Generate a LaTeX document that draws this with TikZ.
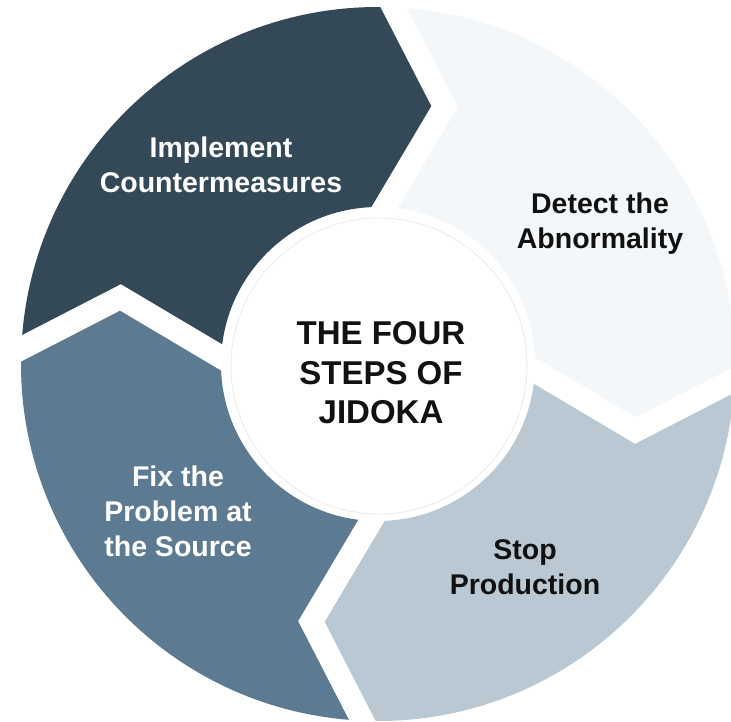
\documentclass[tikz,border=0pt]{standalone}
\usepackage{fontspec}
\setmainfont{Liberation Sans}
\usetikzlibrary{calc}
\definecolor{segdark}{HTML}{344958}
\definecolor{segblue}{HTML}{5C7A92}
\definecolor{seglight}{HTML}{B9C8D2}
\definecolor{segpale}{HTML}{F4F7F9}
\definecolor{inktext}{HTML}{111111}
\tikzset{
  seglabel/.style={align=center, font=\bfseries\fontsize{28.5}{35}\selectfont, inner sep=0pt},
  gapline/.style={draw=white, line width=23pt, miter limit=20, line join=miter},
  hubcircle/.style={circle, fill=white, draw=black!8, line width=0.8pt, minimum size=296pt, inner sep=0pt},
  titletext/.style={align=center, font=\bfseries\fontsize{33}{39.6}\selectfont, text=inktext, inner sep=0pt}
}
\begin{document}
\begin{tikzpicture}
\useasboundingbox (-378pt,-357pt) rectangle (353pt,364pt);
\fill[white] (-378pt,-357pt) rectangle (353pt,364pt);
% Implement Countermeasures
\fill[segdark] (177.5:357pt) arc[start angle=177.5, end angle=87.5, radius=357pt] -- (75.5:266pt) -- (87.5:157pt) arc[start angle=87.5, end angle=177.5, radius=157pt] -- (165.5:266pt) -- cycle;
% Detect the Abnormality
\fill[segpale] (87.5:357pt) arc[start angle=87.5, end angle=-2.5, radius=357pt] -- (-14.5:266pt) -- (-2.5:157pt) arc[start angle=-2.5, end angle=87.5, radius=157pt] -- (75.5:266pt) -- cycle;
% Stop Production
\fill[seglight] (-2.5:357pt) arc[start angle=-2.5, end angle=-92.5, radius=357pt] -- (-104.5:266pt) -- (-92.5:157pt) arc[start angle=-92.5, end angle=-2.5, radius=157pt] -- (-14.5:266pt) -- cycle;
% Fix the Problem at the Source
\fill[segblue] (267.5:357pt) arc[start angle=267.5, end angle=177.5, radius=357pt] -- (165.5:266pt) -- (177.5:157pt) arc[start angle=177.5, end angle=267.5, radius=157pt] -- (255.5:266pt) -- cycle;
% white gaps between the arrows
\foreach \t/\u in {87.5/75.5, 177.5/165.5, 267.5/255.5, 357.5/345.5}{
  \draw[gapline] ($(\u:266pt)!1.4!(\t:357pt)$) -- (\u:266pt) -- ($(\u:266pt)!1.4!(\t:157pt)$);
}
\node[hubcircle] (hub) at (1pt,-2pt) {};
\node[titletext] (title) at (3pt,-8.7pt) {THE FOUR\\STEPS OF\\JIDOKA};
\node[seglabel, text=white] (implement) at (-157pt,199pt) {Implement\\Countermeasures};
\node[seglabel, text=inktext] (detect) at (222pt,140.4pt) {Detect the\\Abnormality};
\node[seglabel, text=inktext] (stop) at (147pt,-203.3pt) {Stop\\Production};
\node[seglabel, text=white] (fix) at (-200pt,-147.8pt) {Fix the\\Problem at\\the Source};
\end{tikzpicture}
\end{document}
